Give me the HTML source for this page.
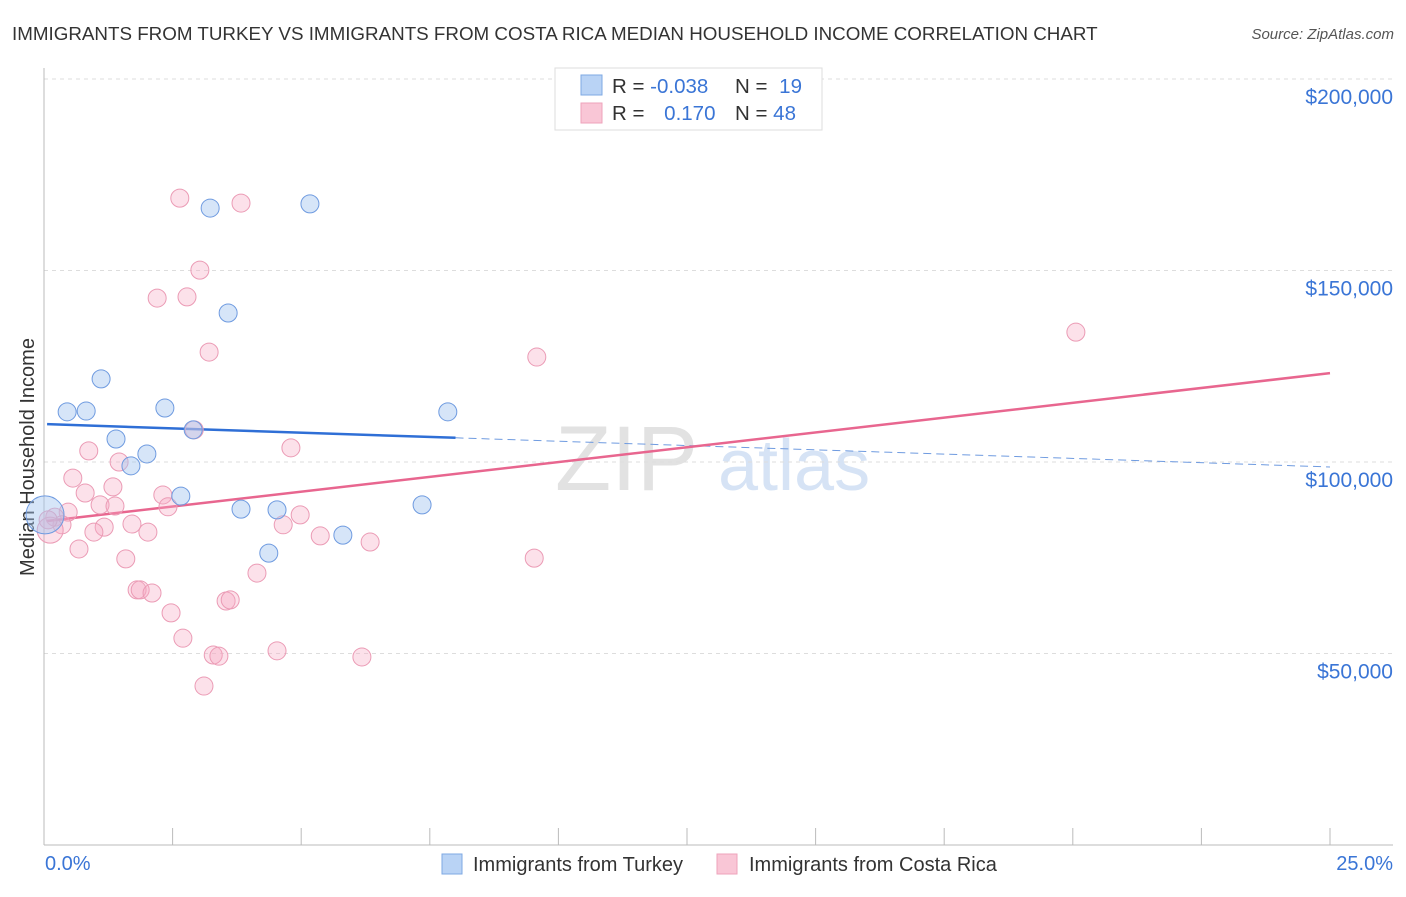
<!DOCTYPE html>
<html><head><meta charset="utf-8"><style>
body{margin:0;background:#fff;font-family:"Liberation Sans",sans-serif;}
svg text{font-family:"Liberation Sans",sans-serif;}
</style></head><body>
<svg id="chart" width="1406" height="892">
<text x="12" y="40" font-size="18.8" fill="#333">IMMIGRANTS FROM TURKEY VS IMMIGRANTS FROM COSTA RICA MEDIAN HOUSEHOLD INCOME CORRELATION CHART</text>
<text x="1394" y="39" font-size="15" fill="#555" font-style="italic" text-anchor="end">Source: ZipAtlas.com</text>
<text transform="translate(34,457) rotate(-90)" font-size="20" fill="#333" text-anchor="middle">Median Household Income</text>
<g>
<text x="555" y="490" font-size="92" fill="#e2e2e2" font-family="Liberation Serif">ZIP</text>
<text x="718" y="490" font-size="72" fill="#d6e3f5">atlas</text>
</g>
<g id="grid"></g><g id="axes"></g><g id="lines"></g><g id="pts"></g>
<g>
<rect x="555" y="68" width="267" height="62" fill="#fff" stroke="#ddd"/>
<rect x="581" y="75" width="21" height="20" fill="#b9d3f5" stroke="#7ea8e3"/>
<rect x="581" y="103" width="21" height="20" fill="#f9c6d6" stroke="#eea3bb"/>
<text x="612" y="93" font-size="20.5" fill="#333">R = <tspan fill="#3a75d6">-0.038</tspan></text>
<text x="735" y="93" font-size="20.5" fill="#333">N = <tspan fill="#3a75d6" dx="6">19</tspan></text>
<text x="612" y="120" font-size="20.5" fill="#333">R = <tspan fill="#3a75d6" dx="14">0.170</tspan></text>
<text x="735" y="120" font-size="20.5" fill="#333">N = <tspan fill="#3a75d6">48</tspan></text>
</g>
<g>
<rect x="442" y="854" width="20" height="20" fill="#b9d3f5" stroke="#7ea8e3"/>
<text x="473" y="871" font-size="20" fill="#333">Immigrants from Turkey</text>
<rect x="717" y="854" width="20" height="20" fill="#f9c6d6" stroke="#eea3bb"/>
<text x="749" y="871" font-size="20" fill="#333">Immigrants from Costa Rica</text>
</g>
</svg>
<script>
const yTicks=[50000,100000,150000,200000];
const yTickLabels=["$50,000","$100,000","$150,000","$200,000"];
const xTickVals=[0,2.5,5,7.5,10,12.5,15,17.5,20,22.5,25];
const xEndLabels=["0.0%","25.0%"];
const turkeyX=[0.45,0.82,1.11,1.40,1.69,2.00,2.35,2.66,2.90,3.23,3.58,3.83,4.37,4.53,5.17,5.81,7.35,7.85,0.02];
const turkeyY=[113.1,113.3,121.7,106.0,99.0,102.1,114.1,91.1,108.4,166.3,138.9,87.7,76.2,87.5,167.4,80.9,88.8,113.1,86.2];
const costaX=[2.64,3.83,3.03,2.20,2.78,3.21,9.58,20.06,2.92,0.87,4.80,0.56,1.46,0.80,1.34,2.31,1.09,1.38,2.41,0.47,0.21,0.35,1.71,1.17,0.97,2.02,4.65,4.98,5.37,6.34,0.68,1.59,4.14,1.81,1.87,2.10,2.47,3.54,3.62,2.70,3.29,3.40,4.53,6.18,3.11,9.53,0.12,0.08];
const costaY=[168.9,167.6,150.1,142.8,143.1,128.7,127.4,133.9,108.4,102.9,103.7,95.8,100.0,91.9,93.5,91.4,88.8,88.5,88.3,86.9,85.6,83.6,83.8,83.0,81.7,81.7,83.6,86.2,80.7,79.1,77.3,74.7,71.0,66.6,66.6,65.8,60.6,63.7,64.0,54.0,49.6,49.3,50.7,49.1,41.5,74.9,82.2,84.9];
const turkeyTrend=[109.9,98.7];
const costaTrend=[84.6,123.2];
const turkeySolidEnd=8.0;

const NS="http://www.w3.org/2000/svg";
const X=p=>44+p*(1286/25);
const Y=k=>845-k*3.83;
function mk(t,a,parent){const e=document.createElementNS(NS,t);for(const k in a)e.setAttribute(k,a[k]);document.getElementById(parent).appendChild(e);return e;}
yTicks.forEach((v,i)=>{
 const g=mk('line',{x1:44,x2:1393,y1:Y(v/1000),y2:Y(v/1000),stroke:'#ddd','stroke-dasharray':'4,4'},'grid');
 
 
 const t=mk('text',{x:1393,y:Y(v/1000)+25,'font-size':21,fill:'#3a75d6','text-anchor':'end'},'axes');
 t.textContent=yTickLabels[i];
 
 
});
let a=mk('line',{x1:44,x2:44,y1:68,y2:845,stroke:'#bbb'},'axes');


a=mk('line',{x1:44,x2:1393,y1:845,y2:845,stroke:'#bbb'},'axes');


xTickVals.forEach(v=>{
 const l=mk('line',{x1:X(v),x2:X(v),y1:828,y2:845,stroke:'#bbb'},'axes');
 
 
});
let t=mk('text',{x:45,y:870,'font-size':20,fill:'#3a75d6'},'axes');t.textContent=xEndLabels[0];


t=mk('text',{x:1393,y:870,'font-size':20,fill:'#3a75d6','text-anchor':'end'},'axes');t.textContent=xEndLabels[1];


const ty=p=>turkeyTrend[0]+(turkeyTrend[1]-turkeyTrend[0])*p/25;
let l=mk('line',{x1:X(0.06),y1:Y(ty(0.06)),x2:X(turkeySolidEnd),y2:Y(ty(turkeySolidEnd)),stroke:'#2f6fd6','stroke-width':2.5},'lines');


l=mk('line',{x1:X(turkeySolidEnd),y1:Y(ty(turkeySolidEnd)),x2:X(25),y2:Y(ty(25)),stroke:'#6f9be0','stroke-width':1,'stroke-dasharray':'8,5'},'lines');


l=mk('line',{x1:X(0.06),y1:Y(costaTrend[0]),x2:X(25),y2:Y(costaTrend[1]),stroke:'#e8668f','stroke-width':2.5},'lines');


costaX.forEach((x,i)=>{
 const big=i===46;
 const c=mk('circle',{cx:X(x),cy:Y(costaY[i]),r:big?13:9,fill:'rgba(245,170,195,0.35)',stroke:'#eb9bb5','stroke-width':1},'pts');
 
 
});
turkeyX.forEach((x,i)=>{
 const big=i===18;
 const c=mk('circle',{cx:X(x),cy:Y(turkeyY[i]),r:big?19:9,fill:'rgba(165,198,240,0.45)',stroke:'#6f9be0','stroke-width':1},'pts');
 
 
});
</script>
</body></html>
